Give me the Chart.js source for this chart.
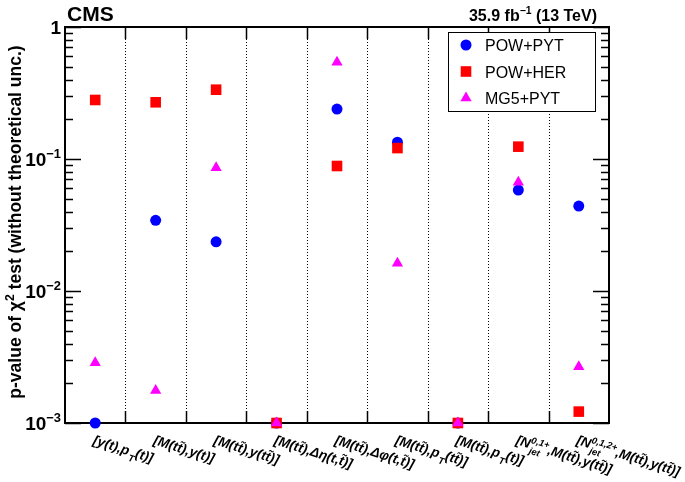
<!DOCTYPE html>
<html>
<head>
<meta charset="utf-8">
<script src="https://cdn.jsdelivr.net/npm/chart.js@4"></script>
<style>
  html, body { margin: 0; padding: 0; background: #fff; }
  #wrap { width: 685px; height: 482px; }
</style>
</head>
<body>
<div id="wrap"><canvas id="c" width="685" height="482"></canvas></div>
<script>
// ── Data ──
const categories = [
    '[y(t),p_{T}(t)]',
    '[M(tt\u0303),y(t)]',
    '[M(tt\u0303),y(tt\u0303)]',
    '[M(tt\u0303),Δη(t,t\u0303)]',
    '[M(tt\u0303),Δφ(t,t\u0303)]',
    '[M(tt\u0303),p_{T}(tt\u0303)]',
    '[M(tt\u0303),p_{T}(t)]',
    '[N_{jet}^{0,1+},M(tt\u0303),y(tt\u0303)]',
    '[N_{jet}^{0,1,2+},M(tt\u0303),y(tt\u0303)]'
];
const powPyt = [0.001, 0.0343, 0.0236, 0.001, 0.239, 0.134, 0.001, 0.0582, 0.044];
const powHer = [0.28, 0.269, 0.335, 0.001, 0.0885, 0.121, 0.001, 0.124, 0.00122];
const mg5Pyt = [0.00286, 0.00176, 0.086, 0.001, 0.54, 0.0162, 0.001, 0.0666, 0.00267];
const yTickValues = [1, 0.1, 0.01, 0.001];
const yTickLabels = ['1', '10^{\u22121}', '10^{\u22122}', '10^{\u22123}'];

const FAM = "'Liberation Sans', Arial, Helvetica, sans-serif";

// ── rich text: _{sub} ^{sup} ──
function parseRich(s) {
    const segs = []; let buf = ''; let i = 0;
    const grab = () => { const j = s.indexOf('}', i + 2); const t = s.slice(i + 2, j); i = j + 1; return t; };
    while (i < s.length) {
        const c = s[i];
        if ((c === '_' || c === '^') && s[i + 1] === '{') {
            if (buf) { segs.push({ t: buf }); buf = ''; }
            const seg = {};
            seg[c === '_' ? 'sub' : 'sup'] = grab();
            if ((s[i] === '_' || s[i] === '^') && s[i + 1] === '{') seg[s[i] === '_' ? 'sub' : 'sup'] = grab();
            segs.push(seg);
        } else { buf += c; i++; }
    }
    if (buf) segs.push({ t: buf });
    return segs;
}

function drawRich(ctx, str, x, y, size, style, draw = true, supScale = 0.7) {
    let cx = x;
    parseRich(str).forEach(g => {
        if (g.t !== undefined) {
            ctx.font = `${style} ${size}px ${FAM}`;
            if (draw) ctx.fillText(g.t, cx, y);
            cx += ctx.measureText(g.t).width;
        } else {
            const ss = size * supScale; ctx.font = `${style} ${ss}px ${FAM}`;
            let w = 0;
            if (g.sup) { if (draw) ctx.fillText(g.sup, cx, y - size * 0.42); w = ctx.measureText(g.sup).width; }
            if (g.sub) { if (draw) ctx.fillText(g.sub, cx + 1, y + size * 0.38); w = Math.max(w, ctx.measureText(g.sub).width + 1); }
            cx += w;
        }
    });
    return cx - x;
}

// ── Frame, ticks, separators (under the markers) ──
const framePlugin = {
    id: 'frame',
    beforeDatasetsDraw(chart) {
        const { ctx, chartArea: a, scales: { x, y } } = chart;
        ctx.save();
        ctx.strokeStyle = '#000';

        // dotted separators between categories
        ctx.lineWidth = 1; ctx.setLineDash([1, 2]);
        const bounds = [];
        for (let i = 1; i < categories.length; i++) {
            const px = Math.round((x.getPixelForValue(i - 1) + x.getPixelForValue(i)) / 2) + 0.5;
            bounds.push(px);
            ctx.beginPath(); ctx.moveTo(px, a.top); ctx.lineTo(px, a.bottom); ctx.stroke();
        }
        ctx.setLineDash([]);

        // x ticks at boundaries
        ctx.lineWidth = 1.5;
        bounds.forEach(px => {
            ctx.beginPath();
            ctx.moveTo(px, a.bottom); ctx.lineTo(px, a.bottom - 12);
            ctx.moveTo(px, a.top); ctx.lineTo(px, a.top + 12);
            ctx.stroke();
        });

        // y ticks (major + minor), both sides
        for (let e = -3; e < 1; e++) {
            for (let k = 1; k <= 9; k++) {
                const v = k * Math.pow(10, e);
                if (v > 1.0001) break;
                const py = Math.round(y.getPixelForValue(v)) + 0.5;
                const len = k === 1 ? 16 : 8;
                ctx.beginPath();
                ctx.moveTo(a.left, py); ctx.lineTo(a.left + len, py);
                ctx.moveTo(a.right, py); ctx.lineTo(a.right - len, py);
                ctx.stroke();
            }
        }

        // frame
        ctx.lineWidth = 2;
        ctx.strokeRect(a.left, a.top, a.right - a.left, a.bottom - a.top);
        ctx.restore();
    },
    afterDatasetsDraw(chart) {
        const { ctx, chartArea: a, scales: { x, y } } = chart;
        ctx.save();
        ctx.fillStyle = '#000';
        ctx.textBaseline = 'alphabetic';

        // y tick labels
        yTickValues.forEach((v, i) => {
            const py = y.getPixelForValue(v);
            const w = drawRich(ctx, yTickLabels[i], 0, 0, 19, 'bold', false, 0.68);
            drawRich(ctx, yTickLabels[i], a.left - 4 - w, py + 7, 19, 'bold', true, 0.68);
        });

        // x labels, slanted
        categories.forEach((c, i) => {
            ctx.save();
            ctx.translate(x.getPixelForValue(i) - 3, a.bottom + 21);
            ctx.rotate(17.5 * Math.PI / 180);
            drawRich(ctx, c, 0, 0, 13.5, 'italic bold');
            ctx.restore();
        });

        // y title
        ctx.save();
        ctx.translate(21, 222);
        ctx.rotate(-Math.PI / 2);
        const title = 'p-value of χ^{2} test (without theoretical unc.)';
        const tw = drawRich(ctx, title, 0, 0, 17.5, 'bold', false);
        drawRich(ctx, title, -tw / 2, 0, 17.5, 'bold');
        ctx.restore();

        // CMS + lumi
        ctx.font = `bold 21px ${FAM}`;
        ctx.fillText('CMS', 67, 21);
        const lumi = '35.9 fb^{\u22121} (13 TeV)';
        const lw = drawRich(ctx, lumi, 0, 0, 16, 'bold', false, 0.65);
        drawRich(ctx, lumi, 597 - lw, 21, 16, 'bold', true, 0.65);

        // legend
        const lx = 448.5, ly = 32.5, lwid = 147, lht = 79;
        ctx.fillStyle = '#fff'; ctx.fillRect(lx, ly, lwid, lht);
        ctx.strokeStyle = '#000'; ctx.lineWidth = 1; ctx.strokeRect(lx, ly, lwid, lht);
        chart.data.datasets.forEach((ds, i) => {
            const cy = 45 + i * 26.5;
            ctx.fillStyle = ds.backgroundColor;
            Chart.helpers.drawPoint(ctx, { pointStyle: ds.pointStyle, radius: ds.pointRadius, borderWidth: 0, rotation: 0 }, 466, cy);
            ctx.fillStyle = '#000';
            ctx.font = `16px ${FAM}`;
            ctx.fillText(ds.label, 485, cy + 6);
        });
        ctx.restore();
    }
};

const series = [
    { label: 'POW+PYT', data: powPyt, color: '#0000ff', style: 'circle', r: 5.5, order: 2 },
    { label: 'POW+HER', data: powHer, color: '#ff0000', style: 'rect', r: 7.5, order: 1 },
    { label: 'MG5+PYT', data: mg5Pyt, color: '#ff00ff', style: 'triangle', r: 6.5, order: 0 }
];

new Chart(document.getElementById('c'), {
    type: 'line',
    data: {
        labels: categories,
        datasets: series.map(s => ({
            label: s.label, data: s.data, showLine: false, clip: false, order: s.order,
            pointStyle: s.style, pointRadius: s.r, pointBorderWidth: 0,
            backgroundColor: s.color, borderColor: s.color, pointHoverRadius: s.r
        }))
    },
    options: {
        responsive: false, animation: false, events: [],
        layout: { padding: { left: 65, right: 76, top: 27, bottom: 59 } },
        plugins: { legend: { display: false }, tooltip: { enabled: false } },
        scales: {
            x: { type: 'category', offset: true, display: false },
            y: { type: 'logarithmic', min: 0.001, max: 1, display: false }
        }
    },
    plugins: [framePlugin]
});
</script>
</body>
</html>
